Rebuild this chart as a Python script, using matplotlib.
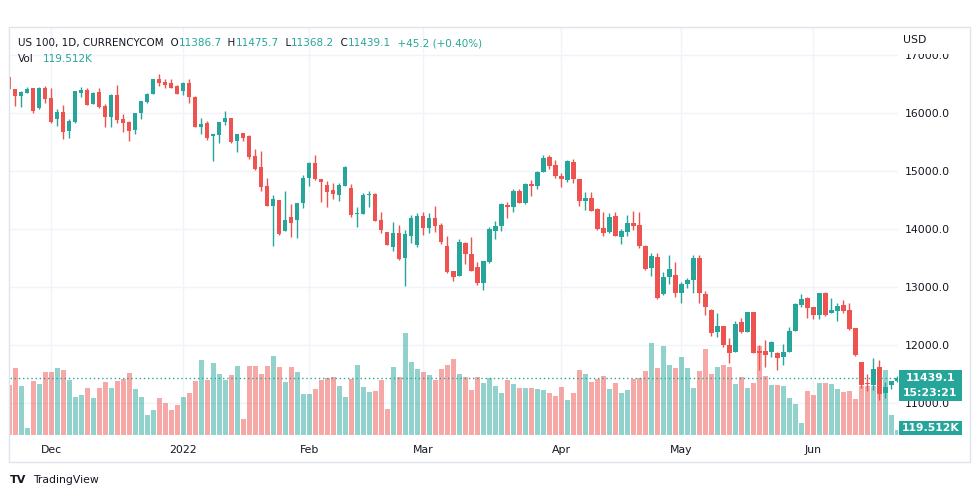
import numpy as np
import pandas as pd
import matplotlib
matplotlib.use('Agg')
import matplotlib.pyplot as plt
from matplotlib.patches import Rectangle

# daily OHLC for US 100 (CURRENCYCOM)
opens = [16632, 16419, 16304, 16356, 16436, 16086, 16436, 16264, 15908, 16022,
         15701, 15850, 16356, 16402, 16166, 16367, 16126, 15942, 16321, 15902,
         15850, 15706, 15999, 16195, 16339, 16591, 16540, 16517, 16471, 16390,
         16522, 16287, 15770, 15839, 15614, 15632, 15844, 15919, 15528, 15660,
         15614, 15264, 15074, 14747, 14408, 14505, 13977, 14218, 14166, 14448,
         14890, 15143, 14867, 14764, 14678, 14592, 14752, 14706, 14258, 14264,
         14592, 14609, 14155, 13954, 13689, 13931, 13511, 13885, 13729, 14229,
         14017, 14195, 14080, 13712, 13281, 13201, 13770, 13580, 13350, 13080,
         13430, 13976, 14057, 14413, 14390, 14666, 14447, 14775, 14746, 14982,
         15246, 15108, 14919, 14850, 15160, 14867, 14493, 14534, 14355, 14022,
         13947, 14229, 13861, 13959, 14103, 14068, 13718, 13327, 13522, 12878,
         13183, 13212, 12896, 13051, 13120, 13505, 12884, 12609, 12235, 12333,
         12005, 11890, 12402, 12235, 12574, 11902, 11902, 11879, 11861, 11804,
         11890, 12246, 12695, 12821, 12655, 12522, 12907, 12563, 12597, 12695,
         12609, 12292, 11712, 11344, 11315, 11626, 11172, 11310, 11386.7]
highs = [16650, 16425, 16380, 16459, 16440, 16459, 16471, 16436, 16080, 16143,
         15902, 16390, 16448, 16436, 16367, 16436, 16160, 16325, 16488, 15982,
         15860, 16010, 16215, 16356, 16595, 16672, 16586, 16591, 16480, 16535,
         16591, 16290, 15913, 15867, 15650, 15855, 16040, 15925, 15650, 15665,
         15620, 15379, 15356, 14879, 14586, 14510, 14660, 14431, 14450, 14931,
         15166, 15281, 14870, 14839, 14804, 14804, 15091, 14781, 14390, 14632,
         14666, 14620, 14304, 13960, 14120, 14074, 13988, 14241, 14287, 14304,
         14287, 14402, 14103, 13885, 13290, 13827, 13775, 13873, 13442, 13460,
         14045, 14143, 14453, 14476, 14700, 14689, 14792, 14844, 15011, 15281,
         15281, 15195, 14965, 15195, 15206, 14870, 14643, 14637, 14360, 14298,
         14275, 14304, 14005, 14246, 14315, 14292, 13725, 13585, 13585, 13258,
         13557, 13430, 13085, 13166, 13557, 13551, 12930, 12620, 12551, 12340,
         12132, 12425, 12465, 12580, 12580, 12005, 12092, 12075, 11890, 12023,
         12321, 12724, 12879, 12838, 12666, 12900, 12925, 12810, 12724, 12781,
         12735, 12300, 11720, 11499, 11775, 11747, 11373, 11390, 11475.7]
lows = [16400, 16132, 16114, 16350, 16011, 16074, 16183, 15839, 15781, 15563,
        15580, 15839, 16275, 16137, 16155, 16097, 15764, 15770, 15827, 15683,
        15522, 15643, 15908, 16183, 16335, 16477, 16430, 16440, 16330, 16321,
        16172, 15765, 15643, 15540, 15183, 15494, 15793, 15494, 15339, 15528,
        15206, 15022, 14666, 14400, 13718, 13908, 13970, 13873, 13856, 14373,
        14747, 14850, 14477, 14390, 14528, 14494, 14750, 14206, 14046, 14260,
        14390, 14145, 13942, 13724, 13632, 13478, 13023, 13770, 13701, 13902,
        13931, 13959, 13747, 13255, 13114, 13195, 13402, 13275, 13034, 12959,
        13425, 13838, 13976, 14200, 14304, 14455, 14440, 14580, 14689, 14980,
        15034, 14878, 14735, 14821, 14792, 14401, 14333, 14318, 13995, 13884,
        13930, 13885, 13741, 13890, 13988, 13683, 13305, 13195, 12805, 12867,
        13051, 12838, 12723, 12982, 12896, 12723, 12522, 12160, 12137, 11965,
        11701, 11885, 12218, 12230, 11868, 11575, 11631, 11793, 11574, 11667,
        11885, 12240, 12666, 12465, 12448, 12448, 12511, 12551, 12419, 12563,
        12264, 11815, 11258, 11218, 11229, 11057, 11086, 11241, 11368.2]
closes = [16413, 16304, 16373, 16425, 16045, 16436, 16241, 15850, 16022, 15683,
          15867, 16385, 16402, 16149, 16356, 16109, 15942, 16321, 15885, 15839,
          15689, 16005, 16212, 16339, 16591, 16528, 16494, 16442, 16339, 16528,
          16275, 15770, 15816, 15580, 15643, 15850, 15919, 15505, 15643, 15569,
          15252, 15034, 14735, 14408, 14522, 13919, 14160, 14114, 14448, 14890,
          15143, 14867, 14821, 14649, 14609, 14764, 15080, 14247, 14275, 14592,
          14609, 14149, 13988, 13735, 13931, 13482, 13913, 14201, 14229, 14028,
          14195, 14063, 13781, 13258, 13183, 13781, 13568, 13287, 13080, 13453,
          14005, 14057, 14442, 14390, 14666, 14459, 14775, 14752, 14988, 15229,
          15091, 14924, 14861, 15177, 14861, 14493, 14534, 14321, 13999, 13942,
          14206, 13890, 13970, 14103, 14057, 13718, 13310, 13545, 12809, 13172,
          13315, 12896, 13057, 13126, 13505, 12896, 12654, 12206, 12333, 12005,
          11861, 12367, 12235, 12574, 11873, 11870, 11833, 12057, 11787, 11879,
          12246, 12712, 12798, 12637, 12522, 12896, 12522, 12609, 12678, 12591,
          12275, 11833, 11315, 11327, 11591, 11155, 11275, 11384, 11439.1]
# volume in thousands
volumes = [1133, 1515, 1110, 165, 1223, 1155, 1425, 1425, 1515, 1470,
           1245, 863, 908, 1065, 840, 1065, 1200, 1065, 1223, 1268,
           1403, 1043, 863, 458, 570, 840, 728, 570, 683, 863,
           953, 1223, 1695, 1245, 1628, 1380, 1245, 1358, 1560, 368,
           1560, 1560, 1380, 1560, 1785, 1538, 1200, 1538, 1425, 930,
           930, 1043, 1245, 1290, 1313, 1110, 863, 1268, 1583, 1088,
           975, 998, 1245, 593, 1538, 1313, 2295, 1650, 1493, 1425,
           1358, 1245, 1493, 1583, 1718, 1380, 1313, 1020, 1313, 1178,
           1290, 1110, 953, 1245, 1155, 1065, 1065, 1065, 1043, 1020,
           953, 885, 1088, 795, 953, 1470, 1380, 1200, 1268, 1335,
           1043, 1178, 953, 1020, 1268, 1290, 1448, 2078, 1515, 2010,
           1583, 1515, 1763, 1515, 1065, 1448, 1943, 1380, 1538, 1583,
           1538, 1155, 1313, 1065, 1178, 2010, 1335, 1133, 1133, 1110,
           840, 705, 278, 998, 908, 1178, 1178, 1155, 1043, 975,
           998, 818, 1110, 1110, 1110, 1110, 1470, 458, 119.512]

holidays = ['2021-12-24', '2022-02-21', '2022-04-15']
dates = pd.bdate_range('2021-11-22', '2022-06-21')
dates = dates[~dates.isin(pd.to_datetime(holidays))]

price_ticks = [11000, 12000, 13000, 14000, 15000, 16000, 17000]
last_price = 11439.1
last_time = '15:23:21'
last_vol = '119.512K'
header_parts = [('US 100, 1D, CURRENCYCOM', 'txt'), ('  O', 'txt'), ('11386.7', 'up'),
                ('  H', 'txt'), ('11475.7', 'up'), ('  L', 'txt'), ('11368.2', 'up'),
                ('  C', 'txt'), ('11439.1', 'up'), ('  +45.2 (+0.40%)', 'up')]

UP = '#26a69a'
DOWN = '#ef5350'
TXT = '#131722'
GRID = '#f0f3fa'
FS = 7.8

W, H = 979, 498
fig = plt.figure(figsize=(W / 100, H / 100), dpi=100)


def fx(px):
    return px / W


def fy(py):
    return 1 - py / H


o = np.array(opens)
c = np.array(closes)
x = np.arange(len(dates))
up = c >= o
col = np.where(up, UP, DOWN)

rect = [fx(10), fy(435), fx(898) - fx(10), fy(27) - fy(435)]
axg = fig.add_axes(rect, zorder=0)
axv = fig.add_axes(rect, sharex=axg, zorder=1)
axc = fig.add_axes(rect, sharex=axg, sharey=axg, zorder=2)

# grid / axes
axg.set_xlim(0.12, 148.1)
axg.set_ylim(10454, 17488)
axg.set_yticks(price_ticks, [f'{v:.1f}' for v in price_ticks])
axg.yaxis.tick_right()
month_start = [i for i in range(1, len(dates)) if dates[i].month != dates[i - 1].month]
month_lab = ['2022' if dates[i].month == 1 else dates[i].strftime('%b') for i in month_start]
axg.set_xticks(month_start, month_lab)
axg.tick_params(length=0, labelsize=FS, labelcolor=TXT)
axg.tick_params(axis='y', pad=5)
axg.tick_params(axis='x', pad=7)
axg.grid(color=GRID, lw=1)
for s in axg.spines.values():
    s.set_visible(False)

# volume overlay
axv.bar(x, volumes, width=0.78, color=col, alpha=0.5, linewidth=0)
axv.set_ylim(0, 9180)
axv.axis('off')
axv.patch.set_visible(False)

# candles
axc.vlines(x, lows, highs, color=col, lw=1)
body = np.maximum(np.abs(c - o), 15)
axc.bar(x, body, bottom=np.minimum(o, c), width=0.72, color=col, linewidth=0)
axc.axhline(last_price, color=UP, lw=1, ls=(0, (1, 2)))
axc.axis('off')
axc.patch.set_visible(False)

# outer frame
fig.patches.append(Rectangle((fx(9), fy(462)), fx(970) - fx(9), fy(27) - fy(462),
                             transform=fig.transFigure, fill=False, ec='#e0e3eb', lw=1, zorder=6))

# USD label covering the top tick
fig.patches.append(Rectangle((fx(899), fy(54)), fx(966) - fx(899), fy(29) - fy(54),
                             transform=fig.transFigure, fc='white', ec='none', zorder=5))
fig.text(fx(903), fy(40), 'USD', fontsize=FS, color=TXT, va='center', zorder=7)

# last price / volume tags
fig.patches.append(Rectangle((fx(899), fy(401)), fx(962) - fx(899), fy(370) - fy(401),
                             transform=fig.transFigure, fc=UP, ec='none', zorder=5))
fig.text(fx(930.5), fy(378), f'{last_price:.1f}', fontsize=FS, color='white', weight='bold',
         ha='center', va='center', zorder=7)
fig.text(fx(930.5), fy(393), last_time, fontsize=FS, color='white', weight='bold',
         ha='center', va='center', zorder=7)
fig.patches.append(Rectangle((fx(899), fy(435)), fx(962) - fx(899), fy(421) - fy(435),
                             transform=fig.transFigure, fc=UP, ec='none', zorder=5))
fig.text(fx(930.5), fy(428), last_vol, fontsize=FS, color='white', weight='bold',
         ha='center', va='center', zorder=7)

# header legend
renderer = fig.canvas.get_renderer()
xpos = fx(18)
for s, kind in header_parts:
    t = fig.text(xpos, fy(46), s, fontsize=7.5, color=UP if kind == 'up' else TXT,
                 va='baseline', zorder=7)
    xpos = fig.transFigure.inverted().transform(t.get_window_extent(renderer))[1][0]
fig.text(fx(18), fy(62), 'Vol', fontsize=7.5, color=TXT, va='baseline', zorder=7)
fig.text(fx(43), fy(62), last_vol, fontsize=7.5, color=UP, va='baseline', zorder=7)

# branding
fig.text(fx(10), fy(480), 'TV', fontsize=8, color=TXT, weight='bold', va='center')
fig.text(fx(33), fy(480), 'TradingView', fontsize=FS, color=TXT, va='center')

fig.savefig('out.png', dpi=100)
